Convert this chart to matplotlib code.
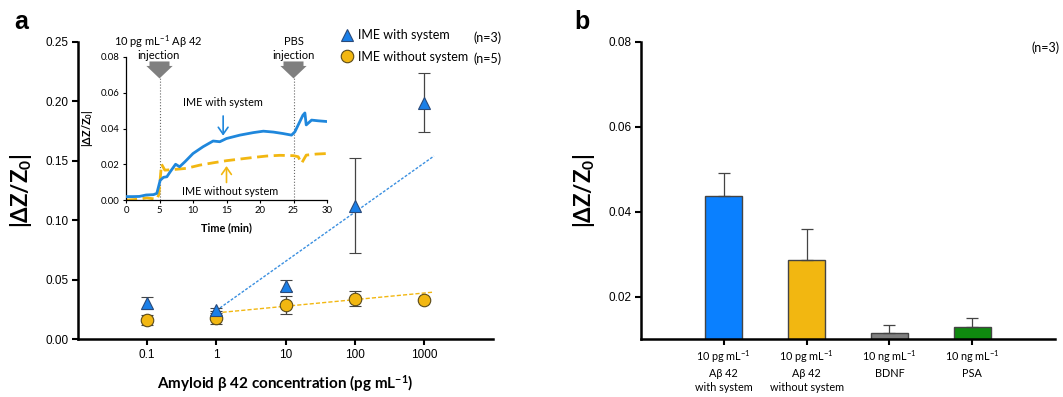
import matplotlib
matplotlib.use("Agg")
import matplotlib.pyplot as plt
import numpy as np
from matplotlib.lines import Line2D

plt.rcParams['font.family'] = ['Lato', 'DejaVu Sans']
plt.rcParams['mathtext.fontset'] = 'custom'
plt.rcParams['mathtext.rm'] = 'Lato'
plt.rcParams['mathtext.bf'] = 'Lato:bold'
plt.rcParams['mathtext.it'] = 'Lato:italic'

# ---------------- data: panel a (main) ----------------
conc = [0.1, 1, 10, 100, 1000]
conc_labels = ['0.1', '1', '10', '100', '1000']
with_sys = [0.030, 0.024, 0.045, 0.112, 0.199]
with_err = [0.005, 0.002, 0.005, 0.040, 0.025]
without_sys = [0.016, 0.018, 0.0286, 0.034, 0.0328]
without_err = [0.004, 0.0055, 0.0073, 0.006, 0.0]
fit_x = [1, 1400]
fit_with = [0.024, 0.154]
fit_without = [0.022, 0.0395]

# ---------------- data: inset (time course) ----------------
t_with = [0, 1, 2, 3, 4.1, 4.6, 5.1, 5.6, 6.1, 6.6, 7.4, 8.0, 8.8, 10, 11.5, 13, 14,
          15, 17, 19, 20.5, 22, 23.4, 24.7, 25.2, 26.4, 26.7, 26.9, 27.7, 28.7, 30]
s_with = [0.0019, 0.0019, 0.002, 0.0028, 0.003, 0.0037, 0.011, 0.0127, 0.013, 0.0158,
          0.020, 0.0186, 0.0214, 0.026, 0.0298, 0.033, 0.0326, 0.0344, 0.0363, 0.0377,
          0.0385, 0.038, 0.0372, 0.0363, 0.0381, 0.0474, 0.0487, 0.042, 0.0447, 0.0443,
          0.0439]
t_without = [0, 1, 2, 3.1, 4.6, 4.9, 5.3, 5.8, 7, 9, 11, 13, 15, 17, 19, 21, 23, 25,
             25.7, 26.2, 26.9, 28.4, 30]
s_without = [0.0, 0.0002, 0.0005, 0.0012, 0.0004, 0.003, 0.020, 0.0167, 0.017, 0.0177,
             0.0195, 0.0208, 0.022, 0.0229, 0.0238, 0.0246, 0.025, 0.0248, 0.0242,
             0.0205, 0.0251, 0.0257, 0.026]

# ---------------- data: panel b ----------------
bar_labels = ['10 pg mL$^{-1}$\nA\u03b2 42\nwith system',
              '10 pg mL$^{-1}$\nA\u03b2 42\nwithout system',
              '10 ng mL$^{-1}$\nBDNF',
              '10 ng mL$^{-1}$\nPSA']
bar_values = [0.0438, 0.0287, 0.0114, 0.0128]
bar_errors = [0.0054, 0.0073, 0.0018, 0.0022]

BLUE = '#1a7fe8'
ORANGE = '#f2b711'
bar_colors = ['#0a80ff', '#f2b711', '#808080', '#0f8a0f']

fig = plt.figure(figsize=(10.63, 3.97), dpi=100)

W, H = 1063, 397
def fx(px):
    return px / W
def fy(py):
    return 1 - py / H

# ---------------- panel a ----------------
ax = fig.add_axes([fx(78), fy(339), fx(493) - fx(78), fy(42) - fy(339)])
ax.set_xscale('log')
ax.set_xlim(0.01, 1e4)
ax.set_ylim(0, 0.25)
ax.plot(fit_x, fit_with, linestyle=(0, (2, 1.2)), color='#3a8fe0', lw=1.0, zorder=2)
ax.plot(fit_x, fit_without, linestyle=(0, (3, 1.5)), color=ORANGE, lw=1.0, zorder=2)
ax.errorbar(conc, with_sys, yerr=with_err, fmt='^', ms=8.5, mfc=BLUE, mec='#2a4a7a',
            mew=0.8, ecolor='#444444', elinewidth=0.9, capsize=4, capthick=0.9, zorder=4)
ax.errorbar(conc, without_sys, yerr=without_err, fmt='o', ms=9, mfc=ORANGE, mec='#5a4a1a',
            mew=0.8, ecolor='#444444', elinewidth=0.9, capsize=4, capthick=0.9, zorder=3)
ax.set_xticks(conc)
ax.set_xticklabels(conc_labels, family='Liberation Sans', fontsize=8.5)
ax.xaxis.set_minor_locator(matplotlib.ticker.NullLocator())
ax.set_yticks(np.arange(0, 0.26, 0.05))
ax.set_yticklabels(['%.2f' % v for v in np.arange(0, 0.26, 0.05)], family='Liberation Sans', fontsize=8.5)
for s in ['top', 'right']:
    ax.spines[s].set_visible(False)
for s in ['left', 'bottom']:
    ax.spines[s].set_linewidth(1.8)
ax.tick_params(direction='out', length=4, width=1.5, pad=3)
ax.set_xlabel('Amyloid \u03b2 42 concentration (pg mL$^{\\mathbf{-1}}$)', fontsize=11,
              fontweight='bold', labelpad=9)
ax.set_ylabel('|\u0394Z/Z$_{\\mathbf{0}}$|', fontsize=16, fontweight='bold', labelpad=8)

# legend
handles = [Line2D([], [], marker='^', ls='', ms=8.5, mfc=BLUE, mec='#2a4a7a', mew=0.8),
           Line2D([], [], marker='o', ls='', ms=9, mfc=ORANGE, mec='#5a4a1a', mew=0.8)]
leg = ax.legend(handles, ['IME with system', 'IME without system'], loc='upper left',
                bbox_to_anchor=(fx(339), fy(29)), bbox_transform=fig.transFigure,
                frameon=False, fontsize=9, handletextpad=0.35, handlelength=1.2,
                labelspacing=0.78, borderaxespad=0, borderpad=0)
fig.text(fx(473), fy(38), '(n=3)', fontsize=9, va='center', ha='left')
fig.text(fx(473), fy(59), '(n=5)', fontsize=9, va='center', ha='left')

# ---------------- inset ----------------
ai = fig.add_axes([fx(126), fy(200), fx(327) - fx(126), fy(57) - fy(200)])
ai.set_xlim(0, 30)
ai.set_ylim(0, 0.08)
ai.plot(t_with, s_with, color='#1f87dc', lw=2.0, zorder=3)
ai.plot(t_without, s_without, color=ORANGE, lw=2.0, ls=(0, (4, 2)), zorder=2)
for tv in [5, 25]:
    ai.plot([tv, tv], [0, 0.0686], color='#666666', lw=0.8, ls=':', zorder=1)
    ai.annotate('', xy=(tv, 0.0680), xytext=(tv, 0.0775), annotation_clip=False,
                arrowprops=dict(arrowstyle='simple,head_length=0.5,head_width=1.05,tail_width=0.8',
                                fc='#7f7f7f', ec='none', shrinkA=0, shrinkB=0, mutation_scale=18))
ai.text(4.8, 0.0885, '10 pg mL$^{-1}$ A\u03b2 42', ha='center', va='center', fontsize=8, clip_on=False)
ai.text(4.8, 0.0806, 'injection', ha='center', va='center', fontsize=8, clip_on=False)
ai.text(25, 0.0885, 'PBS', ha='center', va='center', fontsize=8, clip_on=False)
ai.text(25, 0.0806, 'injection', ha='center', va='center', fontsize=8, clip_on=False)
ai.text(14.4, 0.0545, 'IME with system', ha='center', va='center', fontsize=7.8)
ai.text(15.5, 0.0050, 'IME without system', ha='center', va='center', fontsize=7.8)
ai.annotate('', xy=(14.5, 0.0360), xytext=(14.5, 0.0470),
            arrowprops=dict(arrowstyle='->,head_length=0.5,head_width=0.35', color='#1f87dc',
                            lw=1.2, shrinkA=0, shrinkB=0))
ai.annotate('', xy=(15.0, 0.0190), xytext=(15.0, 0.0098),
            arrowprops=dict(arrowstyle='->,head_length=0.5,head_width=0.35', color=ORANGE,
                            lw=1.2, shrinkA=0, shrinkB=0))
ai.set_xticks(np.arange(0, 31, 5))
ai.set_yticks(np.arange(0, 0.081, 0.02))
ai.set_yticklabels(['%.2f' % v for v in np.arange(0, 0.081, 0.02)])
ai.tick_params(labelsize=6.8, direction='out', length=2.5, width=0.8, pad=2)
for s in ['top', 'right']:
    ai.spines[s].set_visible(False)
for s in ['left', 'bottom']:
    ai.spines[s].set_linewidth(0.9)
ai.set_xlabel('Time (min)', fontsize=7.8, fontweight='bold', labelpad=5)
ai.set_ylabel('|\u0394Z/Z$_{\\mathbf{0}}$|', fontsize=7.8, fontweight='bold', labelpad=4)
ai.patch.set_alpha(0)

# ---------------- panel b ----------------
bx = fig.add_axes([fx(641), fy(339), fx(1055) - fx(641), fy(42) - fy(339)])
xpos = np.arange(len(bar_values))
bx.bar(xpos, bar_values, width=0.45, color=bar_colors, edgecolor='#444444', linewidth=1.0,
       yerr=[np.zeros(len(bar_errors)), bar_errors], ecolor='#444444',
       error_kw=dict(elinewidth=0.9, capsize=4, capthick=0.9), zorder=2)
bx.set_xlim(-1, 4)
bx.set_ylim(0.01, 0.08)
bx.set_yticks([0.02, 0.04, 0.06, 0.08])
bx.set_yticklabels(['0.02', '0.04', '0.06', '0.08'], family='Liberation Sans', fontsize=8.5)
bx.set_xticks(xpos)
bx.set_xticklabels(bar_labels, fontsize=7.8, linespacing=1.3)
for s in ['top', 'right']:
    bx.spines[s].set_visible(False)
for s in ['left', 'bottom']:
    bx.spines[s].set_linewidth(1.8)
bx.tick_params(direction='out', length=4, width=1.5, pad=3)
bx.set_ylabel('|\u0394Z/Z$_{\\mathbf{0}}$|', fontsize=16, fontweight='bold', labelpad=8)
fig.text(fx(1031), fy(48), '(n=3)', fontsize=9, va='center', ha='left')

# panel labels
fig.text(fx(14), fy(29), 'a', fontsize=18, fontweight='bold', family='Liberation Sans')
fig.text(fx(574), fy(29), 'b', fontsize=18, fontweight='bold', family='Liberation Sans')

fig.savefig('out.png', dpi=100)
